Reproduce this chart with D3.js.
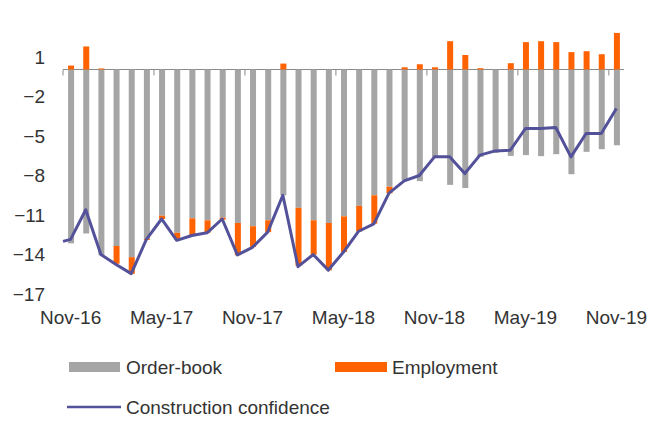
<!DOCTYPE html>
<html>
<head>
<meta charset="utf-8">
<script src="https://cdn.jsdelivr.net/npm/d3@7"></script>
<style>
  html, body { margin: 0; padding: 0; background: #ffffff; }
  svg text { font-family: "Liberation Sans", Arial, sans-serif; fill: #333333; }
</style>
</head>
<body>
<svg id="chart" width="654" height="438"></svg>
<script>
const months = ["Nov-16","Dec-16","Jan-17","Feb-17","Mar-17","Apr-17","May-17","Jun-17","Jul-17","Aug-17","Sep-17","Oct-17",
  "Nov-17","Dec-17","Jan-18","Feb-18","Mar-18","Apr-18","May-18","Jun-18","Jul-18","Aug-18","Sep-18","Oct-18",
  "Nov-18","Dec-18","Jan-19","Feb-19","Mar-19","Apr-19","May-19","Jun-19","Jul-19","Aug-19","Sep-19","Oct-19","Nov-19"];
const orderBook = [-13.2,-12.45,-14.1,-13.4,-14.25,-12.86,-11.1,-12.4,-11.3,-11.45,-11.25,-11.65,
  -11.9,-11.45,-9.55,-10.5,-11.45,-11.65,-11.15,-10.35,-9.55,-8.9,-8.4,-8.48,
  -6.63,-8.76,-9.0,-6.63,-6.33,-6.56,-6.5,-6.58,-6.43,-7.95,-6.25,-6.05,-5.75];
const employment = [0.3,1.75,0.08,-1.35,-1.27,-0.08,-0.25,-0.5,-1.3,-0.95,-0.15,-2.45,
  -1.57,-0.9,0.45,-4.4,-2.6,-3.6,-2.7,-1.95,-2.15,-0.5,0.17,0.4,
  0.17,2.15,1.1,0.1,0.0,0.48,2.08,2.15,2.08,1.32,1.39,1.16,2.78];
const confidence = [-12.9,-10.65,-14.05,-14.8,-15.5,-12.9,-11.35,-12.97,-12.6,-12.4,-11.35,-14.08,
  -13.5,-12.35,-9.55,-14.97,-14.05,-15.23,-13.86,-12.28,-11.72,-9.38,-8.45,-8.05,
  -6.63,-6.63,-7.9,-6.5,-6.18,-6.13,-4.48,-4.48,-4.4,-6.63,-4.86,-4.86,-2.96];
const confidenceStart = -13.05;
const yTicks = [1,-2,-5,-8,-11,-14,-17];
const xLabels = ["Nov-16","May-17","Nov-17","May-18","Nov-18","May-19","Nov-19"];
const seriesNames = ["Order-book","Employment","Construction confidence"];

const colors = { order: "#a5a5a5", emp: "#ff6200", line: "#525199", axis: "#8a8a8a" };
const fontSize = "19px";

const svg = d3.select("#chart");
const x = d3.scaleBand().domain(months).range([63, 624]).padding(0);
const y = d3.scaleLinear().domain([-17, 3]).range([293.4, 30]);

// y labels
const yAxis = d3.axisLeft(y).tickValues(yTicks).tickSize(0).tickPadding(0).tickFormat(d3.format("d"));
const yg = svg.append("g").attr("transform", "translate(45,0)").call(yAxis);
yg.select(".domain").remove();
yg.selectAll("text").style("font-size", fontSize).attr("fill", "#333").attr("dy", "0.36em");

// x labels (low position, at band centres)
const xAxis = d3.axisBottom(x).tickValues(xLabels).tickSize(0).tickPadding(0);
const xg = svg.append("g").attr("transform", "translate(0,310)").call(xAxis);
xg.select(".domain").remove();
xg.selectAll("text").style("font-size", fontSize).attr("fill", "#333").attr("dy", "0.72em");

// zero axis line + ticks at band boundaries
svg.append("line").attr("x1", x.range()[0]).attr("x2", x.range()[1])
  .attr("y1", y(0)).attr("y2", y(0)).attr("stroke", colors.axis).attr("stroke-width", 1);
svg.append("g").selectAll("line").data(months.filter((m, i) => i % 6 === 0)).join("line")
  .attr("x1", d => x(d)).attr("x2", d => x(d))
  .attr("y1", y(0)).attr("y2", y(0) + 6)
  .attr("stroke", colors.axis).attr("stroke-width", 1);

// stacked bars (diverging)
const rows = months.map((m, i) => ({ month: m, order: orderBook[i], emp: employment[i] }));
const stack = d3.stack().keys(["order", "emp"]).offset(d3.stackOffsetDiverging);
const stacked = stack(rows);
const barW = 6;
const barColor = { order: colors.order, emp: colors.emp };
svg.append("g").selectAll("g").data(stacked).join("g")
  .attr("fill", d => barColor[d.key])
  .selectAll("rect").data(d => d).join("rect")
  .attr("x", d => x(d.data.month) + x.bandwidth() / 2 - barW / 2 + 0.5)
  .attr("width", barW)
  .attr("y", d => y(Math.max(d[0], d[1])))
  .attr("height", d => Math.abs(y(d[0]) - y(d[1])));

// line
const pts = [[x.range()[0], y(confidenceStart)]].concat(
  months.map((m, i) => [x(m) + x.bandwidth() / 2, y(confidence[i])]));
svg.append("path").attr("d", d3.line()(pts))
  .attr("fill", "none").attr("stroke", colors.line).attr("stroke-width", 3)
  .attr("stroke-linejoin", "round");

// legend
const lg = svg.append("g");
lg.append("rect").attr("x", 69).attr("y", 362).attr("width", 51).attr("height", 10).attr("fill", colors.order);
lg.append("text").attr("x", 126).attr("y", 367).attr("dy", "0.36em").style("font-size", fontSize).text(seriesNames[0]);
lg.append("rect").attr("x", 335).attr("y", 362).attr("width", 52).attr("height", 10).attr("fill", colors.emp);
lg.append("text").attr("x", 392).attr("y", 367).attr("dy", "0.36em").style("font-size", fontSize).text(seriesNames[1]);
lg.append("line").attr("x1", 67).attr("x2", 121).attr("y1", 407).attr("y2", 407)
  .attr("stroke", colors.line).attr("stroke-width", 2.5);
lg.append("text").attr("x", 126).attr("y", 407).attr("dy", "0.36em").style("font-size", fontSize).text(seriesNames[2]);
</script>
</body>
</html>
